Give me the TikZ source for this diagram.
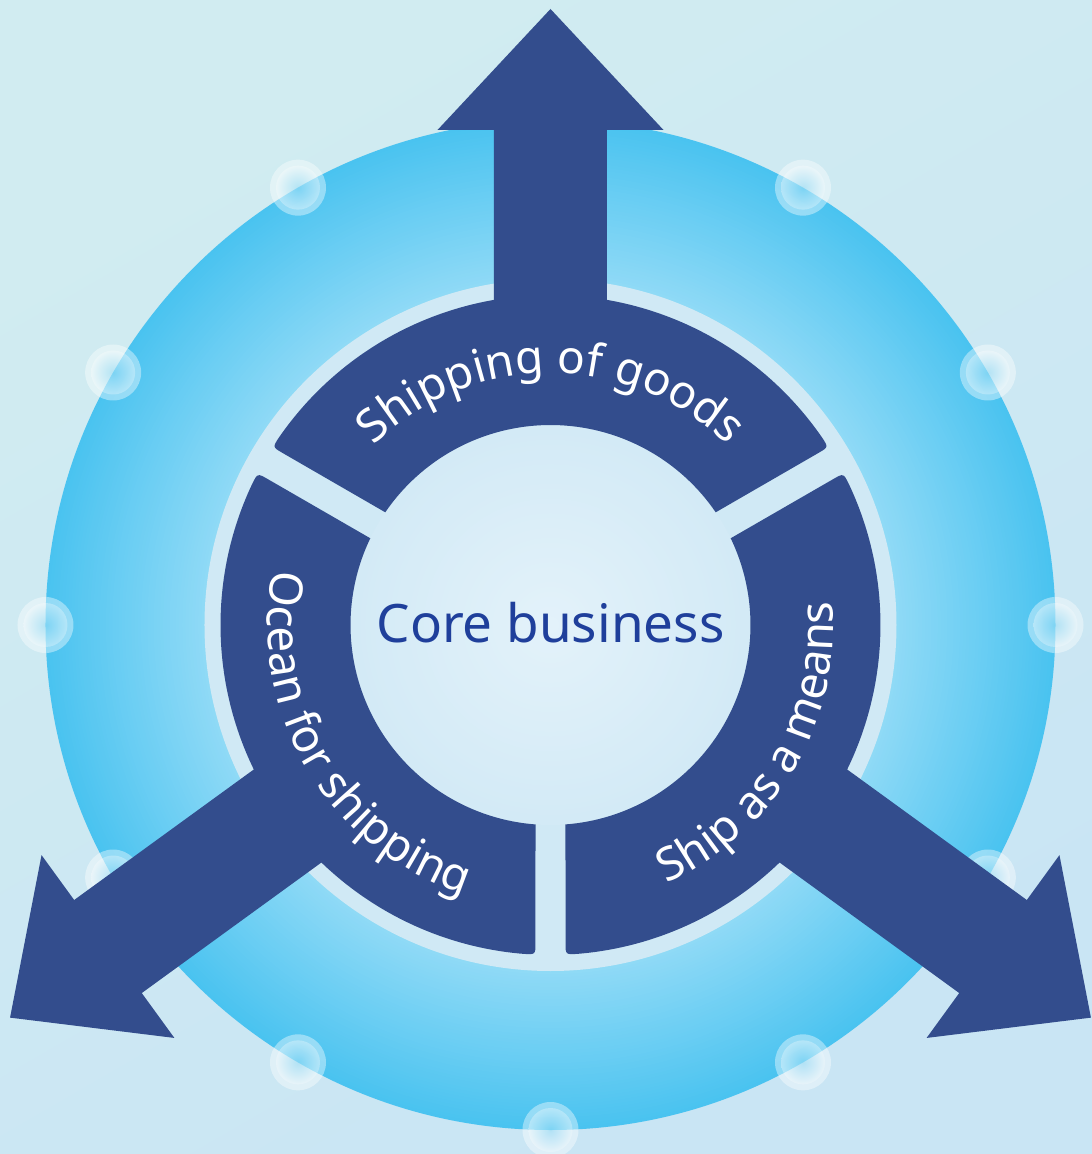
\documentclass[tikz,border=0pt]{standalone}
\usepackage{fontspec}
\setmainfont{Noto Sans}
\usetikzlibrary{calc,decorations.text}
\definecolor{bgtop}{HTML}{D1ECF1}
\definecolor{bgbot}{HTML}{C9E5F4}
\definecolor{discout}{HTML}{4AC3F0}
\definecolor{discin}{HTML}{90DAF6}
\definecolor{pale}{HTML}{D0E9F5}
\definecolor{innerc}{HTML}{E3F2FA}
\definecolor{inneredge}{HTML}{D3EAF6}
\definecolor{darkblue}{HTML}{334D8D}
\definecolor{coreblue}{HTML}{1F3F9B}
\tikzset{
  segfill/.style={fill=darkblue},
  arrowfill/.style={fill=darkblue},
  arctext/.style={decorate, decoration={text along path, text align=center, text={#1}}}
}
\newcommand{\ringseg}[2]{%
  \pgfmathsetmacro{\aO}{#1+2.61}\pgfmathsetmacro{\aI}{#1+4.30}%
  \pgfmathsetmacro{\bO}{#2-2.61}\pgfmathsetmacro{\bI}{#2-4.30}%
  \pgfmathsetmacro{\aOr}{\aO+2.08}\pgfmathsetmacro{\bOr}{\bO-2.08}%
  \fill[segfill] ($(\aO:330)!12pt!(\aI:200)$) .. controls (\aO:330) .. (\aOr:330)
     arc[start angle=\aOr, end angle=\bOr, radius=330]
     .. controls (\bO:330) .. ($(\bO:330)!12pt!(\bI:200)$) -- (\bI:200)
     arc[start angle=\bI, end angle=\aI, radius=200] -- cycle;}
\newcommand{\bigarrow}[3]{%
  \fill[arrowfill, rotate=#1] (-#3,230) -- (-#3,#2) -- (-113,#2) -- (0,#2+121)
     -- (113,#2) -- (#3,#2) -- (#3,230) -- cycle;}
\begin{document}
\begin{tikzpicture}[x=1pt,y=1pt]
\useasboundingbox (-550.5,-529) rectangle (541.5,625);
\shade[shading=axis, top color=bgtop, bottom color=bgbot, shading angle=30] (-550.5,-529) rectangle (541.5,625);
% big disc with radial gradient
\foreach \i in {0,...,50}{%
  \pgfmathsetmacro{\rr}{505-3.18*\i}%
  \pgfmathtruncatemacro{\pp}{100-2*\i}%
  \fill[discout!\pp!discin] (0,0) circle (\rr);}
% bubbles
\foreach \a in {0,30,...,330}{%
  \fill[white, opacity=.4] (\a:505) circle (28);
  \shade[inner color=discout, outer color=white, opacity=.3] (\a:505) circle (22);}
% pale ring
\fill[pale] (0,0) circle (346);
% inner disc
\foreach \i in {0,...,40}{%
  \pgfmathsetmacro{\rr}{200-4.9*\i}%
  \pgfmathtruncatemacro{\pp}{100-2.5*\i}%
  \fill[inneredge!\pp!innerc] (0,0) circle (\rr);}
% ring segments
\ringseg{30}{150}
\ringseg{150}{270}
\ringseg{270}{390}
% arrows
\bigarrow{0}{495}{56.5}
\bigarrow{126}{547}{57.5}
\bigarrow{-126}{547}{57.5}
% texts
\path[arctext={|\color{white}\fontsize{46}{54}\selectfont|Shipping of goods}] (150:252) arc[start angle=150, end angle=30, radius=252];
\path[arctext={|\color{white}\fontsize{46}{54}\selectfont|Ocean for shipping}] (150:283) arc[start angle=150, end angle=271, radius=283];
\path[arctext={|\color{white}\fontsize{46}{54}\selectfont|Ship as a means}] (269:283) arc[start angle=269, end angle=390, radius=283];
\node[text=coreblue, font=\fontsize{53}{62}\selectfont, inner sep=0pt] (core) at (0,2) {Core business};
\end{tikzpicture}
\end{document}
